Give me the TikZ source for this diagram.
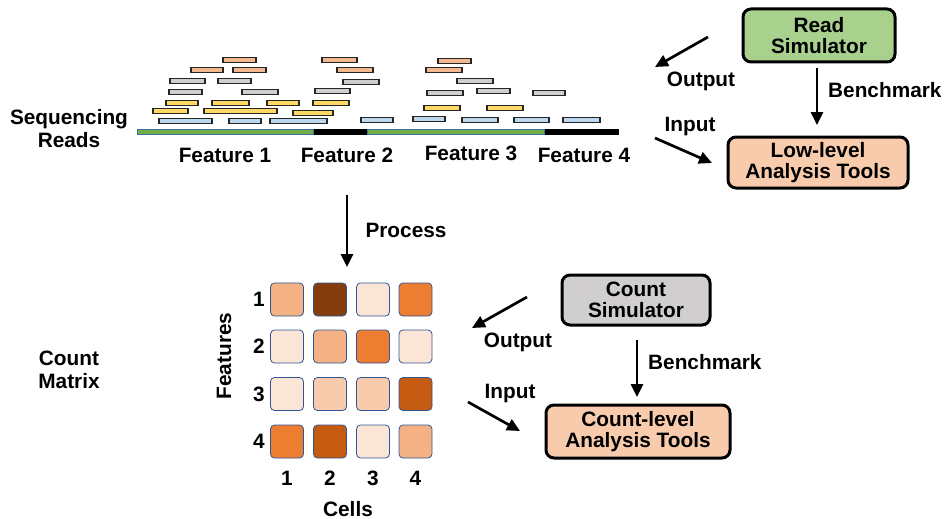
\documentclass[tikz,border=0pt]{standalone}
\usepackage{fontspec}
\setmainfont{Liberation Sans}
\usetikzlibrary{arrows.meta}
\definecolor{rSal}{HTML}{F4B890}
\definecolor{rGray}{HTML}{D0CECE}
\definecolor{rYel}{HTML}{FFD966}
\definecolor{rBlue}{HTML}{BDD7EE}
\definecolor{lineGreen}{HTML}{70AD47}
\definecolor{lineEdge}{HTML}{41719C}
\definecolor{simGreen}{HTML}{A9D18E}
\definecolor{toolPeach}{HTML}{F8CBAD}
\definecolor{simGray}{HTML}{D0CECE}
\definecolor{cA}{HTML}{FBE5D6}
\definecolor{cB}{HTML}{F8CBAD}
\definecolor{cC}{HTML}{F4B183}
\definecolor{cD}{HTML}{ED7D31}
\definecolor{cE}{HTML}{C55A11}
\definecolor{cF}{HTML}{843C0C}
\definecolor{cellEdge}{HTML}{2F5597}
\newcommand{\rdbar}[4]{\draw[line width=1.2pt, draw=black!85, fill=#4] (#1,#3-2.5) rectangle (#2,#3+2.5);}
\tikzset{
  lbl/.style={font=\bfseries\fontsize{20.8}{23}\selectfont, align=center, inner sep=0pt},
  simbox/.style={draw=black, line width=3pt, rounded corners=8pt, align=center, inner sep=0pt,
     font=\bfseries\fontsize{20.8}{21.5}\selectfont},
  cellbox/.style={draw=cellEdge, line width=0.8pt, rounded corners=4pt, minimum size=33pt, inner sep=0pt},
  arr/.style={line width=2.7pt, -{Triangle[length=13pt,width=12pt]}}
}
\begin{document}
\begin{tikzpicture}[x=1pt,y=-1pt]
\useasboundingbox (0,0) rectangle (948,519);
% reads
\rdbar{223}{256}{60}{rSal}\rdbar{322}{357}{60}{rSal}\rdbar{438}{471}{61}{rSal}
\rdbar{191}{223}{70}{rSal}\rdbar{233}{266}{70}{rSal}\rdbar{337}{373}{70}{rSal}\rdbar{426}{462}{70}{rSal}
\rdbar{170}{205}{81}{rGray}\rdbar{218}{251}{81}{rGray}\rdbar{343}{379}{82}{rGray}\rdbar{457}{493}{81}{rGray}
\rdbar{169}{202}{92}{rGray}\rdbar{242}{278}{92}{rGray}\rdbar{315}{350}{91}{rGray}\rdbar{427}{463}{93}{rGray}\rdbar{477}{510}{91}{rGray}\rdbar{533}{565}{93}{rGray}
\rdbar{166}{198}{103}{rYel}\rdbar{212}{249}{103}{rYel}\rdbar{267}{299}{103}{rYel}\rdbar{313}{349}{103}{rYel}
\rdbar{424}{460}{108}{rYel}\rdbar{487}{523}{108}{rYel}
\rdbar{153}{188}{111}{rYel}\rdbar{204}{277}{111}{rYel}\rdbar{293}{333}{113}{rYel}
\rdbar{159}{212}{121}{rBlue}\rdbar{229}{261}{121}{rBlue}\rdbar{270}{327}{121}{rBlue}\rdbar{361}{393}{120}{rBlue}
\rdbar{413}{445}{119}{rBlue}\rdbar{462}{498}{120}{rBlue}\rdbar{514}{549}{120}{rBlue}\rdbar{563}{600}{120}{rBlue}
% genome line
\fill[black] (137,129.2) rectangle (619,134.8);
\draw[draw=lineEdge, line width=0.9pt, fill=lineGreen] (137,129.7) rectangle (313,134.3);
\draw[draw=lineEdge, line width=0.9pt, fill=lineGreen] (367,129.7) rectangle (544,134.3);
% labels top
\node[lbl] (seq) at (69,129) {Sequencing\\Reads};
\node[lbl] (f1) at (225,155) {Feature 1};
\node[lbl] (f2) at (347,155) {Feature 2};
\node[lbl] (f3) at (471,153) {Feature 3};
\node[lbl] (f4) at (584,155) {Feature 4};
% read simulator
\node[simbox, fill=simGreen, minimum width=152pt, minimum height=53pt] (rsim) at (819,35.5) {Read\\Simulator};
\node[simbox, fill=toolPeach, minimum width=180pt, minimum height=51pt] (lowt) at (818,162.5) {Low-level\\Analysis Tools};
\coordinate (o1s) at (708,37); \coordinate (o1e) at (655,67);
\draw[arr] (o1s) -- (o1e);
\node[lbl] (out1) at (701,81) {Output};
\coordinate (b1s) at (817,68); \coordinate (b1e) at (817,125);
\draw[arr] (b1s) -- (b1e);
\node[lbl, anchor=west] (bm1) at (828,90) {Benchmark};
\node[lbl] (in1) at (690,127) {Input};
\coordinate (i1s) at (655,138); \coordinate (i1e) at (712,163);
\draw[arr] (i1s) -- (i1e);
% process
\coordinate (ps) at (347,195); \coordinate (pe) at (347,267);
\draw[arr] (ps) -- (pe);
\node[lbl] (proc) at (406,230) {Process};
% matrix
\foreach \r/\y in {1/299.5,2/346.5,3/394,4/441.5}{
  \node[lbl] (rl\r) at (259,\y) {\r};
}
\foreach \c/\x in {1/287,2/330,3/373,4/415.5}{
  \node[lbl] (cl\c) at (\x,478) {\c};
}
\foreach \r/\y/\a/\b/\cc/\d in {1/299.5/cC/cF/cA/cD, 2/346.5/cA/cC/cD/cA, 3/394/cA/cB/cB/cE, 4/441.5/cD/cE/cA/cC}{
  \node[cellbox, fill=\a] (m\r1) at (287,\y) {};
  \node[cellbox, fill=\b] (m\r2) at (330,\y) {};
  \node[cellbox, fill=\cc] (m\r3) at (373,\y) {};
  \node[cellbox, fill=\d] (m\r4) at (415.5,\y) {};
}
\node[lbl, anchor=base] (cells) at (348,516) {Cells};
\node[lbl, rotate=90] (feat) at (224,356) {Features};
\node[lbl] (cm) at (69,370) {Count\\Matrix};
% count simulator
\node[simbox, fill=simGray, minimum width=148pt, minimum height=50pt] (csim) at (636,300) {Count\\Simulator};
\node[simbox, fill=toolPeach, minimum width=184pt, minimum height=53pt] (cnt) at (638,431.5) {Count-level\\Analysis Tools};
\coordinate (o2s) at (527,297); \coordinate (o2e) at (472,328);
\draw[arr] (o2s) -- (o2e);
\node[lbl] (out2) at (518,342) {Output};
\coordinate (b2s) at (637,340); \coordinate (b2e) at (637,397);
\draw[arr] (b2s) -- (b2e);
\node[lbl, anchor=west] (bm2) at (648,362) {Benchmark};
\node[lbl] (in2) at (510,394) {Input};
\coordinate (i2s) at (468,402); \coordinate (i2e) at (520,431);
\draw[arr] (i2s) -- (i2e);
\end{tikzpicture}
\end{document}
